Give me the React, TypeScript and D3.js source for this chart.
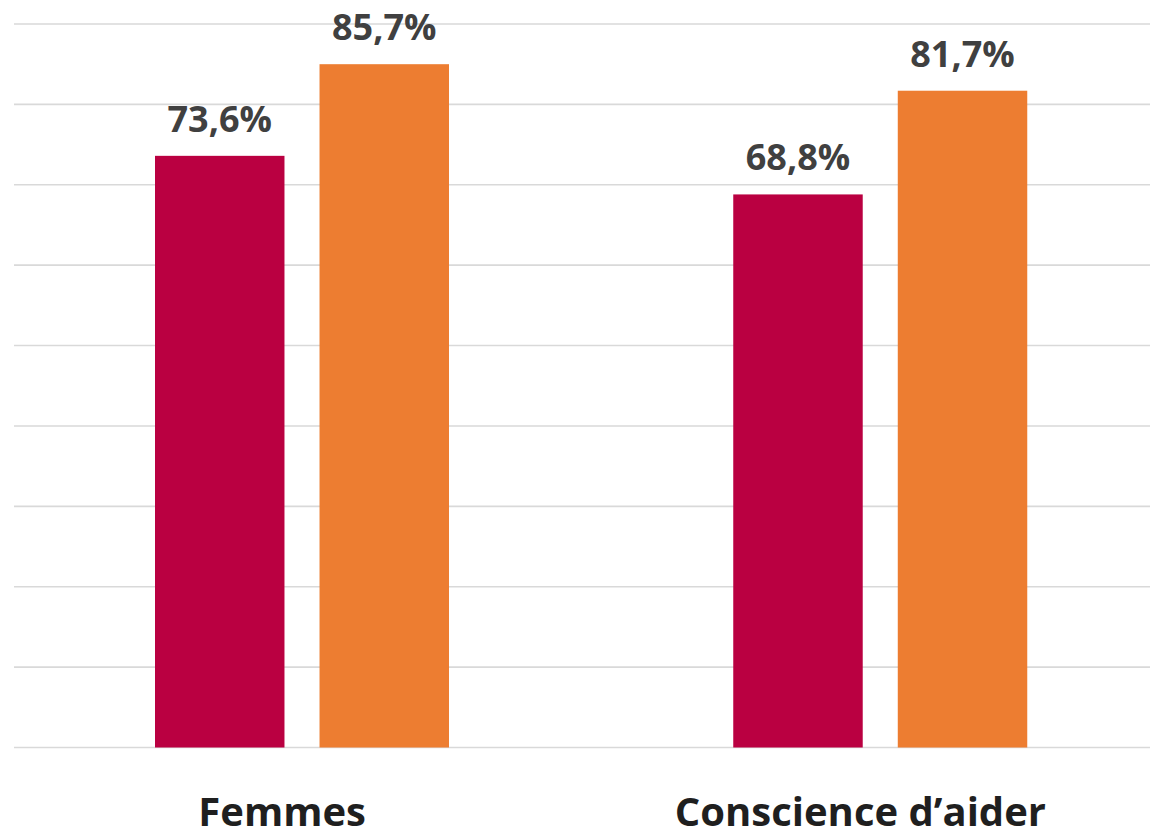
import React from "react";
import * as d3 from "d3";

const categories = ["Femmes", "Conscience d\u2019aider"];
const seriesNames = ["Série 1", "Série 2"];
const series1Values = [73.6, 68.8];
const series2Values = [85.0, 81.7];
const series1Labels = ["73,6%", "68,8%"];
const series2Labels = ["85,7%", "81,7%"];
const gridTicks = [0, 10, 20, 30, 40, 50, 60, 70, 80, 90];

const colors = ["#BA0041", "#ED7D31"];

export default function App() {
  const W = 1150;
  const H = 838;
  const y = d3.scaleLinear().domain([0, 90]).range([747.5, 24]);
  const x0 = d3.scaleBand<string>().domain(categories).range([13, 1169.5]).paddingInner(0).paddingOuter(0);
  const x1 = d3.scaleBand<string>().domain(seriesNames).range([142, 436]).paddingInner(0.213).paddingOuter(0);
  const values = [series1Values, series2Values];
  const labels = [series1Labels, series2Labels];
  const font = "'Open Sans', 'Noto Sans', sans-serif";

  return (
    <div style={{ position: "absolute", left: 0, top: 0 }}>
      <svg width={W} height={H} style={{ display: "block", background: "#fff" }}>
        {gridTicks.map((t) => (
          <line key={t} x1={14} x2={W} y1={y(t)} y2={y(t)} stroke="#D9D9D9" strokeWidth={1.6} />
        ))}
        {categories.map((c, ci) => (
          <g key={c} transform={`translate(${x0(c)},0)`}>
            {seriesNames.map((s, si) => {
              const v = values[si][ci];
              const bx = x1(s)!;
              const bw = x1.bandwidth();
              return (
                <g key={s}>
                  <rect x={bx} y={y(v)} width={bw} height={y(0) - y(v)} fill={colors[si]} />
                  <text
                    x={bx + bw / 2}
                    y={y(v) - 24}
                    textAnchor="middle"
                    fontFamily={font}
                    fontWeight={700}
                    fontSize={36}
                    fill="#404040"
                  >
                    {labels[si][ci]}
                  </text>
                </g>
              );
            })}
            <text
              x={x0.bandwidth() / 2 - 20}
              y={826}
              textAnchor="middle"
              fontFamily={font}
              fontWeight={700}
              fontSize={40}
              fill="#1F1F1F"
            >
              {c}
            </text>
          </g>
        ))}
      </svg>
    </div>
  );
}
